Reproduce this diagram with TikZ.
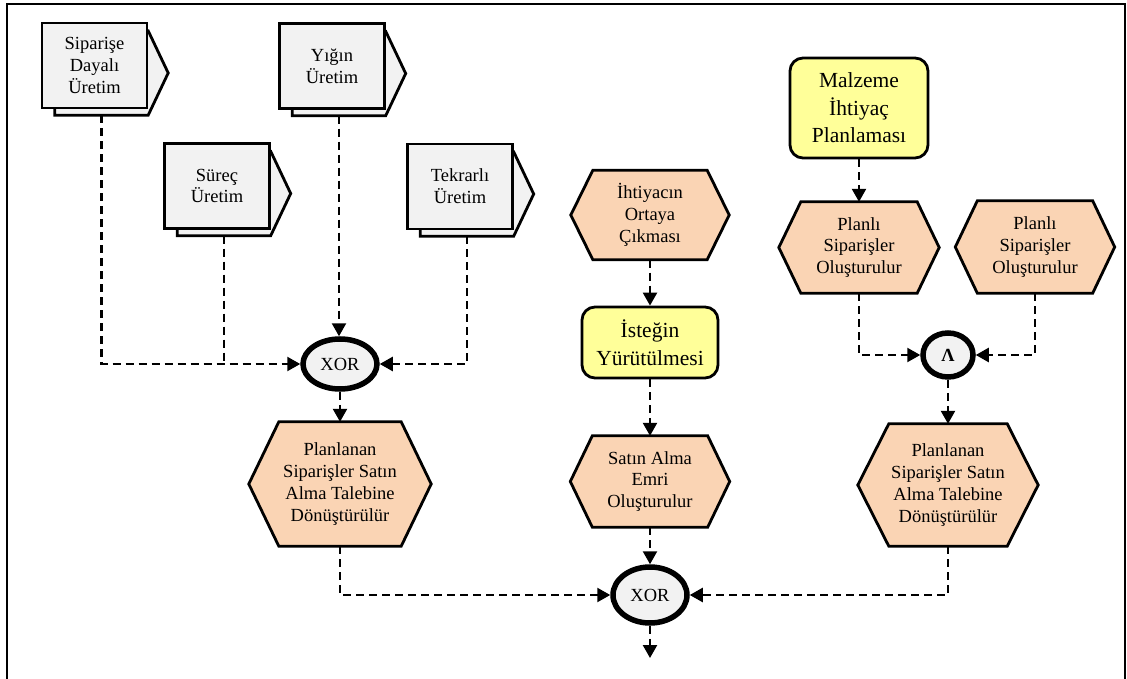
\documentclass[tikz,border=0pt]{standalone}
\usepackage{fontspec}
\setmainfont{Liberation Serif}
\usetikzlibrary{shapes.geometric,arrows.meta}
\pgfdeclarelayer{bg}
\pgfsetlayers{bg,main}
\definecolor{hexfill}{RGB}{250,212,180}
\definecolor{yfill}{RGB}{255,255,153}
\definecolor{gfill}{RGB}{242,242,242}
\newcommand\procbox[4]{%
  \node[backbox] (#1b) at (#2+7,#3+7.5) {};
  \begin{pgfonlayer}{bg}
    \path[backline] (#1b.north west) -- (#1b.north east) -- ([xshift=20pt]#1b.east)
      -- (#1b.south east) -- (#1b.south west) -- cycle;
  \end{pgfonlayer}
  \node[frontbox] (#1) at (#2,#3) {#4};}
\newcommand\hexat[7]{%
  \node[minimum width=#4pt, minimum height=#5pt] (#1) at (#2,#3) {#7};
  \begin{pgfonlayer}{bg}
    \path[hexline] (#1.west) -- ([xshift=#6pt]#1.north west) -- ([xshift=-#6pt]#1.north east)
      -- (#1.east) -- ([xshift=-#6pt]#1.south east) -- ([xshift=#6pt]#1.south west) -- cycle;
  \end{pgfonlayer}}
\begin{document}
\begin{tikzpicture}[x=1pt,y=-1pt,
  every node/.style={font=\fontsize{18.5}{21.7}\selectfont, align=center, inner sep=0pt},
  frontbox/.style={draw, line width=2.8pt, fill=gfill, minimum width=105pt, minimum height=85pt},
  backbox/.style={minimum width=93pt, minimum height=84pt},
  backline/.style={draw, line width=2.8pt, fill=gfill, line join=miter},
  hexline/.style={draw, line width=2.8pt, fill=hexfill, line join=miter},
  yellowbox/.style={draw, line width=2.8pt, fill=yfill, rounded corners=13pt, font=\fontsize{21.5}{27.5}\selectfont},
  gate/.style={ellipse, draw, line width=5.5pt, fill=gfill, font=\fontsize{18.5}{20}\selectfont},
  conn/.style={line width=2.4pt, dash pattern=on 8pt off 5pt},
  arr/.style={conn, -{Triangle[length=13pt,width=14pt]}},
  frame/.style={line width=2.4pt}]
\useasboundingbox (0,0) rectangle (1127,679);
\draw[frame] (7,690) -- (7,4) -- (1125,4) -- (1125,690);

% production type boxes
\procbox{A}{94.5}{65.5}{Siparişe\\Dayalı\\Üretim}
\procbox{B}{332}{66}{Yığın\\Üretim}
\procbox{C}{217}{186}{Süreç\\Üretim}
\procbox{D}{460}{186.5}{Tekrarlı\\Üretim}

% gates
\node[gate, minimum width=74pt, minimum height=50pt] (x1) at (340,364) {XOR};
\node[gate, minimum width=74pt, minimum height=56pt] (x2) at (650,595) {XOR};
\node[gate, minimum width=50pt, minimum height=44pt] (and) at (948,355) {\textbf{Λ}};

% hexagons
\hexat{h1}{340}{484}{182}{124}{30}{Planlanan\\Siparişler Satın\\Alma Talebine\\Dönüştürülür}
\hexat{h2}{650}{215}{158}{89}{22}{İhtiyacın\\Ortaya\\Çıkması}
\hexat{h3}{650}{481.5}{159}{91}{22}{Satın Alma\\Emri\\Oluşturulur}
\hexat{h4}{859}{247.5}{160}{91}{22}{Planlı\\Siparişler\\Oluşturulur}
\hexat{h5}{1035}{247}{159}{92}{22}{Planlı\\Siparişler\\Oluşturulur}
\hexat{h6}{948}{485}{180}{122}{31}{Planlanan\\Siparişler Satın\\Alma Talebine\\Dönüştürülür}

% yellow boxes
\node[yellowbox, minimum width=136pt, minimum height=71pt] (r1) at (650,342.5) {İsteğin\\Yürütülmesi};
\node[yellowbox, minimum width=138pt, minimum height=100pt] (r2) at (859,108) {Malzeme\\İhtiyaç\\Planlaması};

\coordinate (end) at (650,658);

% connectors
\draw[arr] (Ab.south) |- (x1.west);
\draw[conn] (Cb.south) -- (Cb.south |- x1.west);
\draw[arr] (Bb.south) -- (Bb.south |- x1.north);
\draw[arr] (Db.south) |- (x1.east);
\draw[arr] (x1.south) -- (h1.north);
\draw[arr] (h1.south) |- (x2.west);
\draw[arr] (h2.south) -- (r1.north);
\draw[arr] (r1.south) -- (h3.north);
\draw[arr] (h3.south) -- (x2.north);
\draw[arr] (x2.south) -- (end);
\draw[arr] (r2.south) -- (h4.north);
\draw[arr] (h4.south) |- (and.west);
\draw[arr] (h5.south) |- (and.east);
\draw[arr] (and.south) -- (h6.north);
\draw[arr] (h6.south) |- (x2.east);
\end{tikzpicture}
\end{document}
